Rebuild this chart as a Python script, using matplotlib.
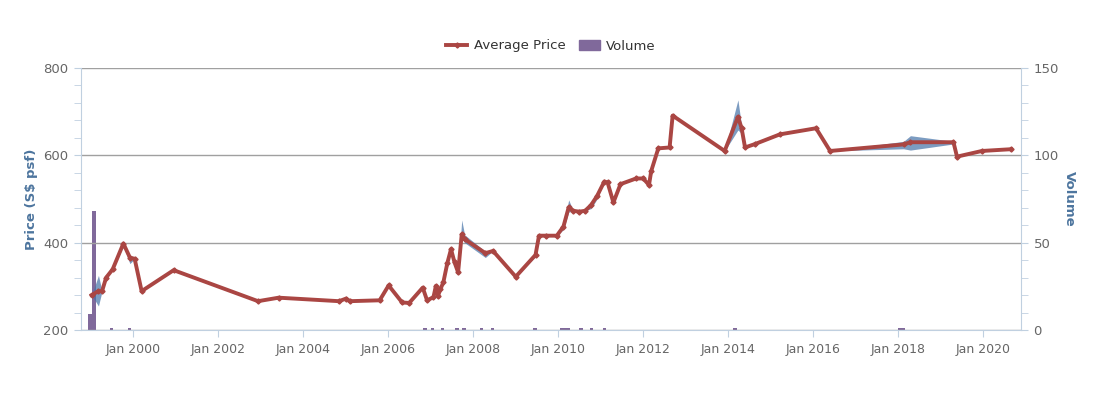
import matplotlib
matplotlib.use('Agg')
import matplotlib.pyplot as plt
import matplotlib.dates as mdates
from matplotlib.lines import Line2D
from matplotlib.patches import Patch
from matplotlib.ticker import MultipleLocator
import pandas as pd

# average price per transaction month (S$ psf)
dates = ['1999-01-10', '1999-03-10', '1999-04-10', '1999-05-15', '1999-07-10',
         '1999-10-10', '1999-12-05', '2000-01-15', '2000-03-15', '2000-12-15',
         '2002-12-10', '2003-06-05', '2004-11-05', '2005-01-05', '2005-02-05',
         '2005-10-20', '2006-01-05', '2006-05-01', '2006-07-01', '2006-10-25',
         '2006-12-01', '2007-01-25', '2007-02-15', '2007-03-05', '2007-03-25',
         '2007-04-20', '2007-05-25', '2007-06-25', '2007-07-25', '2007-08-25',
         '2007-09-25', '2007-10-20', '2008-04-15', '2008-06-20', '2009-01-01',
         '2009-06-20', '2009-07-20', '2009-09-20', '2009-12-20', '2010-02-15',
         '2010-04-01', '2010-05-10', '2010-07-01', '2010-08-20', '2010-10-10',
         '2010-12-01', '2011-02-01', '2011-03-01', '2011-04-20', '2011-06-20',
         '2011-11-01', '2012-01-01', '2012-02-20', '2012-03-10', '2012-05-10',
         '2012-08-15', '2012-09-10', '2013-12-01', '2014-03-25', '2014-04-25',
         '2014-05-25', '2014-08-20', '2015-03-20', '2016-01-25', '2016-05-25',
         '2018-02-15', '2018-04-15', '2019-04-20', '2019-05-20', '2019-12-20',
         '2020-08-25']
avg_price = [280, 289, 289, 320, 339, 398, 366, 363, 289, 337,
             266, 274, 266, 272, 266, 268, 302, 263, 262, 297,
             268, 275, 301, 278, 293, 309, 354, 385, 355, 332,
             419, 408, 376, 381, 322, 372, 416, 416, 416, 437,
             481, 473, 471, 473, 486, 507, 540, 538, 492, 534,
             547, 547, 532, 564, 616, 618, 691, 610, 688, 663,
             618, 626, 648, 662, 610, 625, 630, 630, 597, 610,
             614]
min_price = [280, 255, 289, 320, 339, 392, 352, 363, 289, 337,
             266, 274, 266, 272, 266, 268, 302, 263, 262, 297,
             268, 275, 301, 278, 293, 309, 354, 385, 355, 332,
             410, 400, 366, 381, 322, 368, 416, 416, 416, 430,
             470, 473, 471, 473, 478, 500, 540, 538, 492, 534,
             547, 547, 532, 564, 616, 618, 691, 610, 658, 650,
             618, 626, 648, 662, 610, 615, 612, 626, 597, 610,
             614]
max_price = [280, 325, 289, 320, 339, 400, 370, 363, 289, 337,
             266, 274, 266, 272, 266, 268, 302, 263, 262, 297,
             268, 275, 301, 278, 293, 309, 354, 385, 355, 332,
             452, 418, 380, 381, 322, 376, 416, 416, 416, 440,
             498, 473, 471, 473, 488, 508, 540, 538, 492, 534,
             547, 547, 532, 564, 616, 618, 691, 610, 727, 668,
             618, 626, 648, 662, 610, 632, 645, 632, 597, 610,
             614]

# number of transactions
vol_dates = ['1998-12-28', '1999-02-01', '1999-07-01', '1999-12-01', '2006-11-15',
             '2007-01-15', '2007-04-15', '2007-08-15', '2007-10-15', '2008-03-15',
             '2008-06-15', '2009-06-15', '2010-02-01', '2010-03-01', '2010-04-01',
             '2010-07-15', '2010-10-15', '2011-02-01', '2014-03-01', '2018-01-15',
             '2018-02-15']
volume = [9, 68, 1, 1, 1, 1, 1, 1, 1, 1,
          1, 1, 1, 1, 1, 1, 1, 1, 1, 1,
          1]

line_col = '#AA4643'
band_col = '#4572A7'
vol_col = '#80699B'
axis_col = '#C0D0E0'
title_col = '#4D759E'
label_col = '#666666'

x = pd.to_datetime(dates)
xv = pd.to_datetime(vol_dates)

fig = plt.figure(figsize=(11.02, 3.96), dpi=100)
ax = fig.add_axes([81 / 1102, 66 / 396, 940 / 1102, 262 / 396])
ax2 = ax.twinx()

ax2.bar(xv, volume, width=30, color=vol_col, zorder=2)

ax.fill_between(x, min_price, max_price, color=band_col, alpha=0.7, lw=0, zorder=2)
ax.plot(x, avg_price, color=line_col, lw=2.8, marker='D', ms=2.6, zorder=3)

ax.set_zorder(ax2.get_zorder() + 1)
ax.patch.set_visible(False)

ax.set_xlim(pd.Timestamp('1998-10-11'), pd.Timestamp('2020-11-20'))
ax.set_ylim(200, 800)
ax2.set_ylim(0, 150)

ax.xaxis.set_major_locator(mdates.YearLocator(2))
ax.xaxis.set_major_formatter(mdates.DateFormatter('Jan %Y'))
ax.yaxis.set_major_locator(MultipleLocator(200))
ax.yaxis.set_minor_locator(MultipleLocator(40))
ax2.yaxis.set_major_locator(MultipleLocator(50))
ax2.yaxis.set_minor_locator(MultipleLocator(10))

ax.grid(axis='y', color='#A0A0A0', lw=1)
ax.set_axisbelow(True)

for a in (ax, ax2):
    for s in a.spines.values():
        s.set_visible(False)
ax.spines['left'].set_visible(True)
ax.spines['left'].set_color(axis_col)
ax.spines['bottom'].set_visible(True)
ax.spines['bottom'].set_color(axis_col)
ax2.spines['right'].set_visible(True)
ax2.spines['right'].set_color(axis_col)

ax.tick_params(axis='x', colors=axis_col, length=5, labelcolor=label_col, labelsize=9, pad=4)
ax.tick_params(axis='y', which='both', colors=axis_col, length=5, labelcolor=label_col,
               labelsize=9.5, pad=4)
ax2.tick_params(axis='y', which='both', colors=axis_col, length=5, labelcolor=label_col,
                labelsize=9.5, pad=4)

ax.set_ylabel('Price (S$ psf)', color=title_col, fontsize=9.5, fontweight='bold', labelpad=4)
ax2.set_ylabel('Volume', color=title_col, fontsize=9.5, fontweight='bold',
               rotation=270, labelpad=12)

handles = [Line2D([0], [0], color=line_col, lw=2.8, marker='D', ms=2.6),
           Patch(color=vol_col)]
fig.legend(handles, ['Average Price', 'Volume'], loc='center', ncol=2,
           bbox_to_anchor=(0.5, 1 - 46 / 396), frameon=False, fontsize=9.5,
           handlelength=1.6, handletextpad=0.5, columnspacing=1.0, labelcolor='#333333')

fig.savefig('out.png', dpi=100)
